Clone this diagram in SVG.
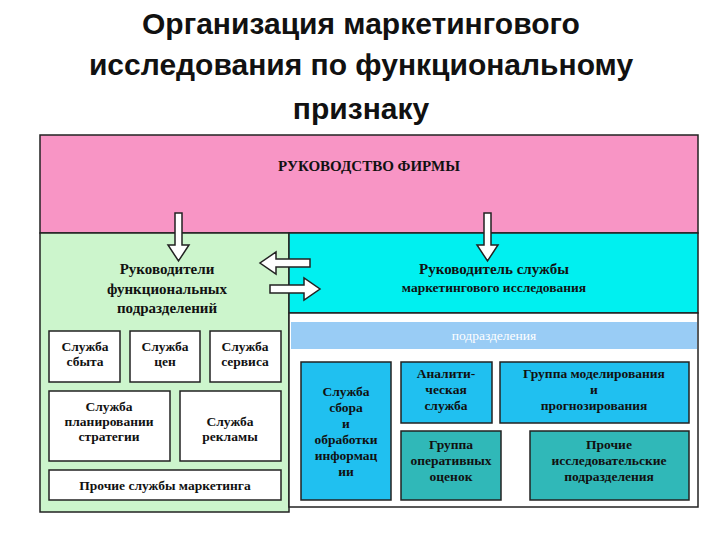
<svg xmlns="http://www.w3.org/2000/svg" width="720" height="540" viewBox="0 0 720 540">
<style>
.t{font-family:"Liberation Sans",Arial,sans-serif;font-weight:bold;font-size:30px;fill:#111;text-anchor:middle}
.s{font-family:"Liberation Serif","Times New Roman",serif;font-weight:bold;font-size:13.5px;fill:#111;text-anchor:middle}
.m{font-family:"Liberation Serif","Times New Roman",serif;font-weight:bold;font-size:15px;fill:#111;text-anchor:middle}
.b{stroke:#222;stroke-width:1.5}
.w{fill:#fff}
.arr{fill:#fff;stroke:#222;stroke-width:1.5}
</style>
<rect width="720" height="540" fill="#fff"/>
<text class="t" x="361" y="34">Организация маркетингового</text>
<text class="t" x="361" y="75">исследования по функциональному</text>
<text class="t" x="361" y="119">признаку</text>
<g id="top"><rect class="b" x="40" y="135" width="658" height="98" fill="#f895c5"/>
<text class="m" x="369" y="171">РУКОВОДСТВО ФИРМЫ</text></g>
<g id="left"><rect class="b" x="40" y="233" width="249" height="279" fill="#ccf5cc"/>
<text class="m" x="167" y="274">Руководители</text><text class="m" x="167" y="294">функциональных</text><text class="m" x="167" y="313">подразделений</text></g>
<g id="right"><rect class="b" x="289" y="233" width="409" height="80" fill="#00f0f0"/>
<text class="m" x="494" y="274">Руководитель службы</text><text class="s" x="494" y="292">маркетингового исследования</text></g>
<g id="area"><rect class="b w" x="289" y="313" width="409" height="194"/>
<rect x="291" y="322" width="406" height="27" fill="#99ccf5"/>
<text class="s" x="494" y="340" style="fill:#fff;font-weight:normal">подразделения</text></g>
<g id="n1"><rect class="b w" x="49" y="331" width="71" height="51"/><text class="s" x="85" y="351">Служба</text><text class="s" x="85" y="366">сбыта</text></g>
<g id="n2"><rect class="b w" x="130" y="331" width="70" height="51"/><text class="s" x="165" y="351">Служба</text><text class="s" x="165" y="366">цен</text></g>
<g id="n3"><rect class="b w" x="210" y="331" width="71" height="51"/><text class="s" x="245" y="351">Служба</text><text class="s" x="245" y="366">сервиса</text></g>
<g id="n4"><rect class="b w" x="49" y="391" width="121" height="70"/><text class="s" x="109" y="411">Служба</text><text class="s" x="109" y="426">планировании</text><text class="s" x="109" y="441">стратегии</text></g>
<g id="n5"><rect class="b w" x="180" y="391" width="101" height="70"/><text class="s" x="230" y="426">Служба</text><text class="s" x="230" y="441">рекламы</text></g>
<g id="n6"><rect class="b w" x="49" y="470" width="232" height="30"/><text class="s" x="165" y="490">Прочие службы  маркетинга</text></g>
<g id="r1"><rect class="b" x="301" y="362" width="90" height="138" fill="#20c0f0"/><text class="s" x="346" y="396">Служба</text><text class="s" x="346" y="412">сбора</text><text class="s" x="346" y="428">и</text><text class="s" x="346" y="444">обработки</text><text class="s" x="346" y="460">информац</text><text class="s" x="346" y="476">ии</text></g>
<g id="r2"><rect class="b" x="401" y="362" width="91" height="61" fill="#20c0f0"/><text class="s" x="446" y="378">Аналити-</text><text class="s" x="446" y="394">ческая</text><text class="s" x="446" y="410">служба</text></g>
<g id="r3"><rect class="b" x="500" y="362" width="189" height="61" fill="#20c0f0"/><text class="s" x="594" y="378">Группа моделирования</text><text class="s" x="594" y="394">и</text><text class="s" x="594" y="410">прогнозирования</text></g>
<g id="r4"><rect class="b" x="401" y="431" width="100" height="69" fill="#30b8b8"/><text class="s" x="451" y="449">Группа</text><text class="s" x="451" y="465">оперативных</text><text class="s" x="451" y="481">оценок</text></g>
<g id="r5"><rect class="b" x="530" y="431" width="159" height="69" fill="#30b8b8"/><text class="s" x="609" y="449">Прочие</text><text class="s" x="609" y="465">исследовательские</text><text class="s" x="609" y="481">подразделения</text></g>
<g id="connectors">
<path class="arr" d="M175 213H182V245H189L178.5 261L168 245H175Z"/>
<path class="arr" d="M484 213H491V245H498L487.5 261L477 245H484Z"/>
<path class="arr" d="M310 259V267H276V274L260 263L276 252V259Z"/>
<path class="arr" d="M270 285V293H304V300L320 289L304 278V285Z"/>
</g>
</svg>
